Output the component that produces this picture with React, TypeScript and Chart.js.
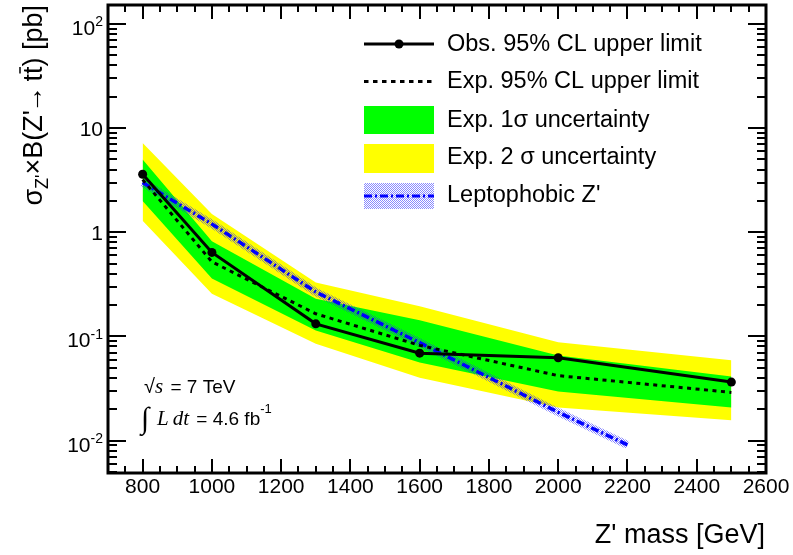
import React, { useEffect, useRef } from "react";
import { Chart, registerables } from "chart.js";

Chart.register(...registerables);

// ---- data ----
const masses = [800, 1000, 1300, 1600, 2000, 2500];
const observedLimit = [3.6, 0.64, 0.132, 0.069, 0.0624, 0.0364];
const expectedLimit = [3.2, 0.52, 0.165, 0.082, 0.042, 0.029];
const oneSigmaUp = [5.0, 0.82, 0.23, 0.143, 0.0656, 0.0411];
const oneSigmaDown = [2.0, 0.36, 0.114, 0.056, 0.0295, 0.0208];
const twoSigmaUp = [7.2, 1.5, 0.33, 0.195, 0.088, 0.0589];
const twoSigmaDown = [1.29, 0.257, 0.085, 0.04, 0.0208, 0.0157];
const leptoMasses = [800, 1000, 1300, 1600, 2000, 2200];
const leptoXsec = [3.0, 1.2, 0.267, 0.087, 0.0187, 0.0091];

const xTickValues = [800, 1000, 1200, 1400, 1600, 1800, 2000, 2200, 2400, 2600];
const yTickValues = [0.01, 0.1, 1, 10, 100];
const yTickBases = ["10", "10", "1", "10", "10"];
const yTickExps = ["-2", "-1", "", "", "2"];

const legendLabels = [
  "Obs. 95% CL upper limit",
  "Exp. 95% CL upper limit",
  "Exp. 1\u03c3 uncertainty",
  "Exp. 2 \u03c3 uncertainty",
  "Leptophobic Z'",
];

const SANS = '"Liberation Sans", Arial, Helvetica, sans-serif';
const SERIF = '"Liberation Serif", "Times New Roman", serif';
const GREEN = "#00ff00";
const YELLOW = "#ffff00";
const BLUE = "#0000ff";

function pts(xs: number[], ys: number[]) {
  return xs.map((x, i) => ({ x, y: ys[i] }));
}

function makeStipple(): CanvasPattern | string {
  const c = document.createElement("canvas");
  c.width = 2;
  c.height = 2;
  const g = c.getContext("2d");
  if (!g) return "rgba(80,80,255,0.4)";
  g.fillStyle = "rgba(40,40,255,0.55)";
  g.fillRect(0, 0, 1, 1);
  g.fillRect(1, 1, 1, 1);
  const p = g.createPattern(c, "repeat");
  return p || "rgba(80,80,255,0.4)";
}

type Piece = { t: string; f: string; dy?: number; gap?: number };

function drawPieces(ctx: CanvasRenderingContext2D, pieces: Piece[], x: number, y: number) {
  let cx = x;
  for (const p of pieces) {
    cx += p.gap || 0;
    ctx.font = p.f;
    ctx.fillText(p.t, cx, y + (p.dy || 0));
    cx += ctx.measureText(p.t).width;
  }
  return cx;
}

function measurePieces(ctx: CanvasRenderingContext2D, pieces: Piece[]) {
  let w = 0;
  for (const p of pieces) {
    ctx.font = p.f;
    w += (p.gap || 0) + ctx.measureText(p.t).width;
  }
  return w;
}

const decorPlugin = {
  id: "rootDecor",
  afterDraw(chart: any) {
    const ctx: CanvasRenderingContext2D = chart.ctx;
    const { left, right, top, bottom } = chart.chartArea;
    const xs = chart.scales.x;
    const ys = chart.scales.y;
    ctx.save();
    ctx.strokeStyle = "#000";
    ctx.fillStyle = "#000";
    ctx.setLineDash([]);

    // ticks on x (bottom + top)
    ctx.lineWidth = 2;
    for (let v = 750; v < 2600; v += 50) {
      const px = Math.round(xs.getPixelForValue(v));
      const major = v % 200 === 0;
      const len = major ? 14 : 7;
      ctx.beginPath();
      ctx.moveTo(px, bottom);
      ctx.lineTo(px, bottom - len);
      ctx.moveTo(px, top);
      ctx.lineTo(px, top + len);
      ctx.stroke();
    }
    // ticks on y (left + right)
    for (let d = -3; d <= 2; d++) {
      for (let k = 1; k <= 9; k++) {
        const v = k * Math.pow(10, d);
        if (v < ys.min || v > ys.max) continue;
        const py = Math.round(ys.getPixelForValue(v));
        const len = k === 1 ? 18 : 9;
        ctx.beginPath();
        ctx.moveTo(left, py);
        ctx.lineTo(left + len, py);
        ctx.moveTo(right, py);
        ctx.lineTo(right - len, py);
        ctx.stroke();
      }
    }
    // frame
    ctx.lineWidth = 3;
    ctx.strokeRect(left, top, right - left, bottom - top);

    // x tick labels
    ctx.font = `21px ${SANS}`;
    ctx.textAlign = "center";
    ctx.textBaseline = "alphabetic";
    for (const v of xTickValues) {
      ctx.fillText(String(v), xs.getPixelForValue(v), 493);
    }
    // y tick labels
    ctx.textAlign = "left";
    yTickValues.forEach((v, i) => {
      const py = ys.getPixelForValue(v);
      const base = yTickBases[i];
      const ex = yTickExps[i];
      if (!ex) {
        ctx.font = `21px ${SANS}`;
        const w = ctx.measureText(base).width;
        ctx.fillText(base, 103 - w, py + 7.5);
      } else {
        const pieces: Piece[] = [
          { t: base, f: `21px ${SANS}`, dy: 11 },
          { t: ex, f: `14px ${SANS}`, dy: 2.5 },
        ];
        const w = measurePieces(ctx, pieces);
        drawPieces(ctx, pieces, 103 - w, py);
      }
    });

    // x title
    ctx.font = `27px ${SANS}`;
    ctx.textAlign = "right";
    ctx.fillText("Z' mass [GeV]", 765, 543);
    ctx.textAlign = "left";

    // y title (rotated)
    ctx.save();
    ctx.translate(42, 5);
    ctx.rotate(-Math.PI / 2);
    const tf = `27px ${SANS}`;
    const tPieces: Piece[] = [
      { t: "\u03c3", f: tf },
      { t: "Z'", f: `18px ${SANS}`, dy: 6 },
      { t: "\u00d7B(Z'", f: tf },
      { t: "\u2192", f: tf, gap: -3 },
      { t: " t", f: tf, gap: -3 },
      { t: "t", f: tf },
      { t: ") [pb]", f: tf },
    ];
    const tw = measurePieces(ctx, tPieces);
    let cx = -tw;
    for (let i = 0; i < tPieces.length; i++) {
      const p = tPieces[i];
      cx += p.gap || 0;
      ctx.font = p.f;
      ctx.fillText(p.t, cx, p.dy || 0);
      const w = ctx.measureText(p.t).width;
      if (i === 5) {
        ctx.lineWidth = 1.5;
        ctx.beginPath();
        ctx.moveTo(cx + 0.5, -22);
        ctx.lineTo(cx + w - 0.5, -22);
        ctx.stroke();
      }
      cx += w;
    }
    ctx.restore();

    // annotation
    ctx.fillStyle = "#000";
    drawPieces(
      ctx,
      [
        { t: "\u221a", f: `20px ${SANS}` },
        { t: "s", f: `italic 21px ${SERIF}` },
        { t: " = 7 TeV", f: `19px ${SANS}`, gap: 2 },
      ],
      144,
      393
    );
    ctx.font = `30px ${SERIF}`;
    ctx.fillText("\u222b", 141, 428);
    drawPieces(
      ctx,
      [
        { t: "L", f: `italic 21px ${SERIF}` },
        { t: "dt", f: `italic 21px ${SERIF}`, gap: 4 },
        { t: " = 4.6 fb", f: `19px ${SANS}`, gap: 2 },
        { t: "-1", f: `13px ${SANS}`, dy: -12 },
      ],
      157,
      425
    );

    // legend
    const lx0 = 364;
    const lx1 = 434;
    const tx = 447;
    const baselines = [50.7, 87.5, 126.5, 164, 202];
    legendLabels.forEach((lab, i) => {
      ctx.fillStyle = "#000";
      ctx.font = `23.5px ${SANS}`;
      ctx.fillText(lab, tx, baselines[i]);
    });
    // obs sample
    ctx.strokeStyle = "#000";
    ctx.lineWidth = 3;
    ctx.beginPath();
    ctx.moveTo(lx0, 44);
    ctx.lineTo(lx1, 44);
    ctx.stroke();
    ctx.beginPath();
    ctx.arc(399, 44, 4.5, 0, Math.PI * 2);
    ctx.fill();
    // exp sample
    ctx.setLineDash([4.5, 4.5]);
    ctx.beginPath();
    ctx.moveTo(lx0, 81.5);
    ctx.lineTo(lx1, 81.5);
    ctx.stroke();
    ctx.setLineDash([]);
    // bands
    ctx.fillStyle = GREEN;
    ctx.fillRect(lx0, 106, lx1 - lx0, 28);
    ctx.fillStyle = YELLOW;
    ctx.fillRect(lx0, 144, lx1 - lx0, 29);
    ctx.fillStyle = chart.$stipple || "rgba(80,80,255,0.4)";
    ctx.fillRect(lx0, 183, lx1 - lx0, 26);
    ctx.strokeStyle = BLUE;
    ctx.lineWidth = 3;
    ctx.setLineDash([8, 3, 2, 3]);
    ctx.beginPath();
    ctx.moveTo(lx0, 196);
    ctx.lineTo(lx1, 196);
    ctx.stroke();
    ctx.setLineDash([]);

    ctx.restore();
  },
};

export default function App() {
  const ref = useRef<HTMLCanvasElement | null>(null);
  useEffect(() => {
    const canvas = ref.current;
    if (!canvas) return;
    const stipple = makeStipple();
    const chart: any = new Chart(canvas, {
      type: "line",
      data: {
        datasets: [
          {
            label: "obs",
            data: pts(masses, observedLimit),
            borderColor: "#000",
            backgroundColor: "#000",
            borderWidth: 3,
            pointRadius: 4.5,
            pointBorderWidth: 0,
            pointBackgroundColor: "#000",
            fill: false,
            tension: 0,
          },
          {
            label: "exp",
            data: pts(masses, expectedLimit),
            borderColor: "#000",
            borderWidth: 3,
            borderDash: [4, 4.5],
            pointRadius: 0,
            fill: false,
            tension: 0,
          },
          {
            label: "lepto",
            data: pts(leptoMasses, leptoXsec),
            borderColor: BLUE,
            borderWidth: 3.5,
            borderDash: [8, 3, 2, 3],
            pointRadius: 0,
            fill: false,
            tension: 0,
          },
          {
            label: "leptoBand",
            data: pts(leptoMasses, leptoXsec),
            borderColor: stipple as any,
            borderWidth: 8,
            pointRadius: 0,
            fill: false,
            tension: 0,
          },
          {
            label: "oneUp",
            data: pts(masses, oneSigmaUp),
            borderColor: "rgba(0,0,0,0)",
            borderWidth: 1,
            backgroundColor: GREEN,
            pointRadius: 0,
            fill: "+1",
            tension: 0,
          },
          {
            label: "oneDown",
            data: pts(masses, oneSigmaDown),
            borderColor: "rgba(0,0,0,0)",
            borderWidth: 1,
            pointRadius: 0,
            fill: false,
            tension: 0,
          },
          {
            label: "twoUp",
            data: pts(masses, twoSigmaUp),
            borderColor: "rgba(0,0,0,0)",
            borderWidth: 1,
            backgroundColor: YELLOW,
            pointRadius: 0,
            fill: "+1",
            tension: 0,
          },
          {
            label: "twoDown",
            data: pts(masses, twoSigmaDown),
            borderColor: "rgba(0,0,0,0)",
            borderWidth: 1,
            pointRadius: 0,
            fill: false,
            tension: 0,
          },
        ],
      },
      options: {
        responsive: false,
        animation: false,
        events: [],
        layout: { padding: { left: 108, right: 27, top: 5, bottom: 82 } },
        plugins: { legend: { display: false }, tooltip: { enabled: false } },
        scales: {
          x: { type: "linear", min: 700, max: 2600, display: false },
          y: { type: "logarithmic", min: 0.00488, max: 152, display: false },
        },
      },
      plugins: [
        {
          id: "stippleHolder",
          beforeInit(c: any) {
            c.$stipple = stipple;
          },
        },
        decorPlugin as any,
      ],
    });
    return () => chart.destroy();
  }, []);
  return (
    <div style={{ position: "fixed", left: 0, top: 0, width: 793, height: 555, background: "#fff" }}>
      <canvas ref={ref} width={793} height={555} style={{ display: "block" }} />
    </div>
  );
}
